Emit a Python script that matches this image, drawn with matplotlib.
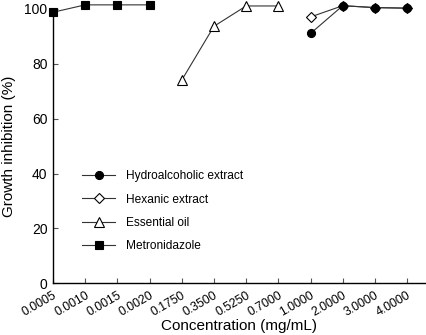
import matplotlib
matplotlib.use("Agg")
import matplotlib.pyplot as plt

categories = ["0.0005", "0.0010", "0.0015", "0.0020", "0.1750", "0.3500",
              "0.5250", "0.7000", "1.0000", "2.0000", "3.0000", "4.0000"]

metro_idx = [0, 1, 2, 3]
metro_val = [98.7, 101.4, 101.4, 101.4]

oil_idx = [4, 5, 6, 7]
oil_val = [74.0, 93.6, 101.0, 101.0]

hex_idx = [8, 9, 10, 11]
hex_val = [97.0, 101.1, 100.4, 100.2]

hydro_idx = [8, 9, 10, 11]
hydro_val = [91.0, 101.1, 100.4, 100.2]

plt.rcParams['font.family'] = ['Liberation Sans', 'DejaVu Sans']

fig = plt.figure(figsize=(4.27, 3.35), dpi=100)
ax = fig.add_axes([0.124, 0.154, 0.871, 0.82])

lc = '#333333'
kw = dict(color=lc, lw=0.8, clip_on=False, markeredgewidth=0.8)
l_hex, = ax.plot(hex_idx, hex_val, marker='D', ms=4.8, mfc='white', mec='black',
                 label='Hexanic extract', **kw)
l_hyd, = ax.plot(hydro_idx, hydro_val, marker='o', ms=5.8, mfc='black', mec='black',
                 label='Hydroalcoholic extract', **kw)
l_oil, = ax.plot(oil_idx, oil_val, marker='^', ms=6.5, mfc='white', mec='black',
                 label='Essential oil', **kw)
l_met, = ax.plot(metro_idx, metro_val, marker='s', ms=5.4, mfc='black', mec='black',
                 label='Metronidazole', **kw)

ax.set_xlim(0, 11.55)
ax.set_ylim(0, 100)
ax.set_xticks(range(len(categories)))
ax.set_xticklabels(categories, rotation=30, ha='right', rotation_mode='anchor', fontsize=8.8)
ax.set_yticks([0, 20, 40, 60, 80, 100])
ax.tick_params(axis='both', direction='in', length=3.6, width=0.8, color='#555555')
ax.tick_params(axis='y', labelsize=10, pad=4)
ax.tick_params(axis='x', pad=4.5)
ax.spines['top'].set_visible(False)
ax.spines['right'].set_visible(False)
for s in ['left', 'bottom']:
    ax.spines[s].set_linewidth(1.0)

ax.set_xlabel('Concentration (mg/mL)', fontsize=11, labelpad=0)
ax.set_ylabel('Growth inhibition (%)', fontsize=11, labelpad=6)

leg = ax.legend(handles=[l_hyd, l_hex, l_oil, l_met],
                loc='upper left', bbox_to_anchor=(0.049, 0.451), frameon=False,
                fontsize=8.6, handlelength=2.8, labelspacing=0.95, handletextpad=0.85)

fig.savefig('out.png', dpi=100)
